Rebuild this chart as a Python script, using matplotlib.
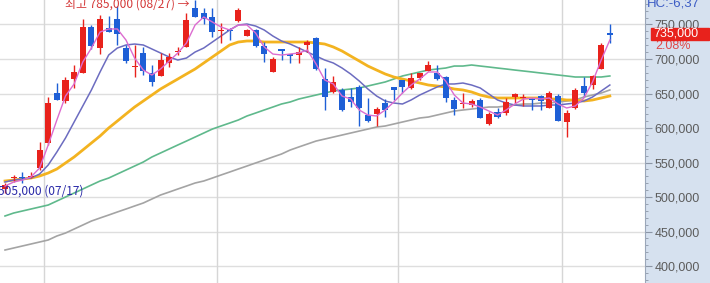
import matplotlib
matplotlib.use('Agg')
import matplotlib.pyplot as plt
from matplotlib.patches import Rectangle
from matplotlib.ticker import MultipleLocator, FuncFormatter
import numpy as np

# daily candles, 07/17 .. (71 sessions), prices in won
opens = [512000, 528000, 529000, 529000, 542000, 578000, 651000, 639000, 671000, 680000,
         746000, 716000, 745000, 758000, 716000, 688000, 709000, 680000, 675000, 694000,
         710000, 717000, 774000, 767000, 761000, 741000, 742000, 755000, 733000, 742000,
         719000, 681000, 714000, 707000, 706000, 720000, 730000, 671000, 652000, 655000,
         645000, 659000, 619000, 620000, 636000, 659000, 670000, 658000, 672000, 683000,
         680000, 674000, 641000, 635000, 633000, 641000, 606000, 623000, 622000, 645000,
         643000, 642000, 646000, 629000, 646000, 609000, 629000, 661000, 662000, 686000,
         738000]
highs = [520000, 532000, 536000, 536000, 580000, 645000, 665000, 674000, 691000, 758000,
         749000, 764000, 762000, 777000, 720000, 720000, 717000, 691000, 709000, 709000,
         717000, 767000, 785000, 774000, 774000, 752000, 745000, 774000, 744000, 744000,
         725000, 703000, 715000, 707000, 717000, 728000, 732000, 687000, 675000, 658000,
         658000, 662000, 643000, 630000, 642000, 659000, 670000, 680000, 680000, 697000,
         691000, 675000, 645000, 651000, 642000, 643000, 623000, 629000, 643000, 651000,
         649000, 643000, 648000, 654000, 649000, 626000, 658000, 674000, 677000, 723000,
         751000]
lows = [506000, 522000, 520000, 527000, 539000, 575000, 640000, 636000, 658000, 680000,
        714000, 707000, 739000, 720000, 694000, 674000, 677000, 661000, 675000, 688000,
        706000, 717000, 761000, 751000, 732000, 723000, 728000, 754000, 733000, 717000,
        696000, 681000, 699000, 694000, 694000, 710000, 684000, 626000, 651000, 625000,
        630000, 603000, 609000, 603000, 616000, 641000, 651000, 657000, 670000, 683000,
        670000, 638000, 619000, 629000, 630000, 614000, 604000, 614000, 619000, 636000,
        632000, 626000, 626000, 629000, 610000, 587000, 628000, 645000, 657000, 686000,
        723000]
closes = [517000, 529000, 527000, 531000, 568000, 636000, 641000, 670000, 681000, 746000,
          719000, 758000, 739000, 736000, 697000, 690000, 683000, 667000, 699000, 703000,
          712000, 757000, 761000, 758000, 739000, 742000, 741000, 771000, 742000, 719000,
          707000, 700000, 712000, 704000, 710000, 725000, 686000, 645000, 667000, 626000,
          638000, 629000, 610000, 628000, 626000, 655000, 659000, 672000, 680000, 691000,
          671000, 643000, 628000, 636000, 639000, 614000, 620000, 616000, 638000, 649000,
          645000, 641000, 639000, 651000, 610000, 622000, 655000, 651000, 675000, 720000,
          735000]

# moving averages (thousand won)
ma5 = [515.9, 521.7, 524.6, 529.0, 542.0, 575.4, 611.6, 646.4, 663.8, 695.6,
       715.9, 739.1, 743.5, 743.5, 727.5, 701.4, 684.0, 676.8, 685.5, 697.1,
       708.7, 723.2, 749.3, 760.9, 753.6, 746.4, 742.0, 749.3, 749.3, 737.7,
       717.4, 707.2, 705.8, 707.2, 708.7, 713.0, 692.7, 669.6, 663.8, 646.4,
       642.0, 626.1, 618.8, 617.4, 626.1, 637.7, 650.7, 662.3, 671.0, 681.2,
       681.2, 668.1, 647.8, 636.2, 634.8, 630.4, 624.6, 618.8, 626.1, 634.8,
       642.0, 643.5, 642.0, 643.5, 634.8, 629.0, 631.9, 643.5, 666.7, 698.5,
       727.5]
ma10 = [521.7, 524.6, 526.1, 527.5, 533.3, 546.4, 565.2, 585.5, 608.7, 631.9,
        655.1, 681.2, 705.8, 715.9, 720.3, 721.7, 720.3, 714.5, 708.7, 702.9,
        698.5, 701.4, 710.1, 715.9, 724.6, 733.3, 742.0, 749.3, 750.7, 747.8,
        742.0, 733.3, 726.1, 721.7, 715.9, 710.1, 704.3, 698.5, 694.2, 687.0,
        678.3, 668.1, 656.5, 646.4, 639.1, 636.2, 634.8, 640.6, 647.8, 653.6,
        659.4, 663.8, 663.8, 665.2, 662.3, 658.0, 649.3, 640.6, 636.2, 633.3,
        631.9, 631.9, 631.9, 633.3, 633.3, 634.8, 636.2, 639.1, 644.9, 653.6,
        662.3]
ma20 = [523.2, 524.6, 526.1, 527.5, 530.4, 534.8, 540.6, 549.3, 558.0, 568.1,
        578.3, 588.4, 600.0, 610.1, 620.3, 630.4, 639.1, 647.8, 656.5, 663.8,
        671.0, 678.3, 685.5, 694.2, 702.9, 711.6, 720.3, 724.6, 726.1, 726.1,
        724.6, 724.6, 724.6, 724.6, 724.6, 724.6, 723.2, 721.7, 717.4, 711.6,
        704.3, 697.1, 689.8, 684.0, 678.3, 673.9, 671.0, 668.1, 665.2, 662.3,
        660.9, 659.4, 656.5, 655.1, 652.2, 647.8, 644.9, 643.5, 643.5, 643.5,
        643.5, 643.5, 643.5, 642.0, 642.0, 640.6, 640.6, 639.1, 640.6, 643.5,
        646.4]
ma60 = [472.5, 476.8, 479.7, 482.6, 485.5, 488.4, 494.2, 500.0, 505.8, 511.6,
        517.4, 523.2, 527.5, 533.3, 539.1, 544.9, 550.7, 558.0, 563.8, 569.6,
        575.4, 581.1, 586.9, 592.7, 598.5, 602.9, 607.2, 611.6, 617.4, 621.7,
        626.1, 630.4, 634.8, 637.7, 642.0, 644.9, 647.8, 650.7, 653.6, 655.1,
        656.5, 658.0, 660.9, 663.8, 666.7, 671.0, 675.4, 678.3, 681.2, 684.0,
        685.5, 686.9, 689.8, 689.8, 691.3, 689.8, 688.4, 686.9, 685.5, 684.0,
        682.6, 681.2, 679.7, 678.3, 676.8, 675.4, 673.9, 673.9, 673.9, 673.9,
        675.4]
ma120 = [423.2, 426.1, 429.0, 431.9, 434.8, 437.7, 443.5, 447.8, 453.6, 459.4,
         465.2, 469.6, 473.9, 478.3, 482.6, 487.0, 491.3, 497.1, 502.9, 507.2,
         511.6, 515.9, 520.3, 523.2, 527.5, 531.9, 536.2, 540.6, 544.9, 549.3,
         553.6, 558.0, 562.3, 568.1, 572.5, 576.8, 581.1, 584.0, 586.9, 589.8,
         592.7, 595.6, 598.5, 601.4, 602.9, 605.8, 608.7, 611.6, 614.5, 615.9,
         618.8, 621.7, 624.6, 626.1, 627.5, 629.0, 630.4, 630.4, 631.9, 633.3,
         634.8, 634.8, 636.2, 636.2, 637.7, 639.1, 640.6, 644.9, 647.8, 650.7,
         655.1]

month_breaks = [4.5, 24.5, 45.5, 64.5]
price_ticks = [400000, 450000, 500000, 550000, 600000, 650000, 700000, 750000]

RED = '#e8221c'
BLUE = '#1e5fd6'

fig = plt.figure(figsize=(7.1, 2.83), dpi=100)
fig.patch.set_facecolor('#d6e1ef')
ax = fig.add_axes([0, 0, 645 / 710, 1])
ax.set_facecolor('white')

n = len(closes)
x = np.arange(n)
ax.set_xlim(-0.58, 74.07)
ax.set_ylim(375400, 785500)

# grid
for p in price_ticks:
    ax.axhline(p, color='#dedede', lw=1, zorder=0)
for m in month_breaks:
    ax.axvline(m, color='#d6d6d6', lw=1, zorder=0)

# moving averages
ax.plot(x, np.array(ma120) * 1000, color='#a4a4a4', lw=1.2, zorder=2)
ax.plot(x, np.array(ma60) * 1000, color='#5fb98c', lw=1.2, zorder=2)
ax.plot(x, np.array(ma20) * 1000, color='#f3b320', lw=2.0, zorder=2)
ax.plot(x, np.array(ma10) * 1000, color='#6c6cc0', lw=1.1, zorder=2)

# candles
for i in range(n):
    o, h, l, c = opens[i], highs[i], lows[i], closes[i]
    col = RED if c >= o else BLUE
    ax.vlines(i, l, h, color=col, lw=1, zorder=3)
    bottom = min(o, c)
    height = max(abs(c - o), 1500)
    ax.bar(i, height, bottom=bottom, width=0.7, color=col, zorder=3)

ax.plot(x, np.array(ma5) * 1000, color='#dc6cd0', lw=1.0, zorder=4)

# right price axis
for s in ['top', 'left', 'bottom']:
    ax.spines[s].set_visible(False)
ax.spines['right'].set_color('#9ba7b9')
ax.set_xticks([])
ax.yaxis.tick_right()
ax.set_yticks(price_ticks)
ax.yaxis.set_major_formatter(FuncFormatter(lambda v, p: '{:,}'.format(int(v))))
ax.yaxis.set_minor_locator(MultipleLocator(10000))
ax.tick_params(axis='y', which='major', direction='out', length=5, width=0.8,
               color='#8c96a6', labelcolor='#5c5c5c', labelsize=9, pad=2)
ax.tick_params(axis='y', which='minor', direction='out', length=2, width=0.6,
               color='#8c96a6')
for t in ax.get_yticklabels():
    t.set_family('Liberation Sans')

kfont = ['Noto Sans CJK KR', 'DejaVu Sans']
ax.text(21.4, 779500, '최고 785,000 (08/27) →', ha='right', va='center',
        color='#d43838', fontsize=8.6, family=kfont, zorder=5)
ax.text(-0.85, 509000, '505,000 (07/17)', ha='left', va='center',
        color='#2a2aa8', fontsize=8.6, family=kfont, zorder=5)

# current price box
fig.add_artist(Rectangle((651 / 710, 1 - 40 / 283), 58 / 710, 12 / 283,
                         transform=fig.transFigure, color=RED, zorder=5))
fig.text(653 / 710, 1 - 34 / 283, '735,000', color='white', fontsize=9,
         family='Liberation Sans', va='center', ha='left', zorder=6)
fig.text(655 / 710, 1 - 46 / 283, '2.08%', color='#e04848', fontsize=9,
         family='Liberation Sans', va='center', ha='left')
fig.text(647 / 710, 1 - 4 / 283, 'HC:-6,37', color='#3c5cc4', fontsize=9.5,
         family='Liberation Sans', va='center', ha='left')

fig.savefig('out.png', dpi=100)
